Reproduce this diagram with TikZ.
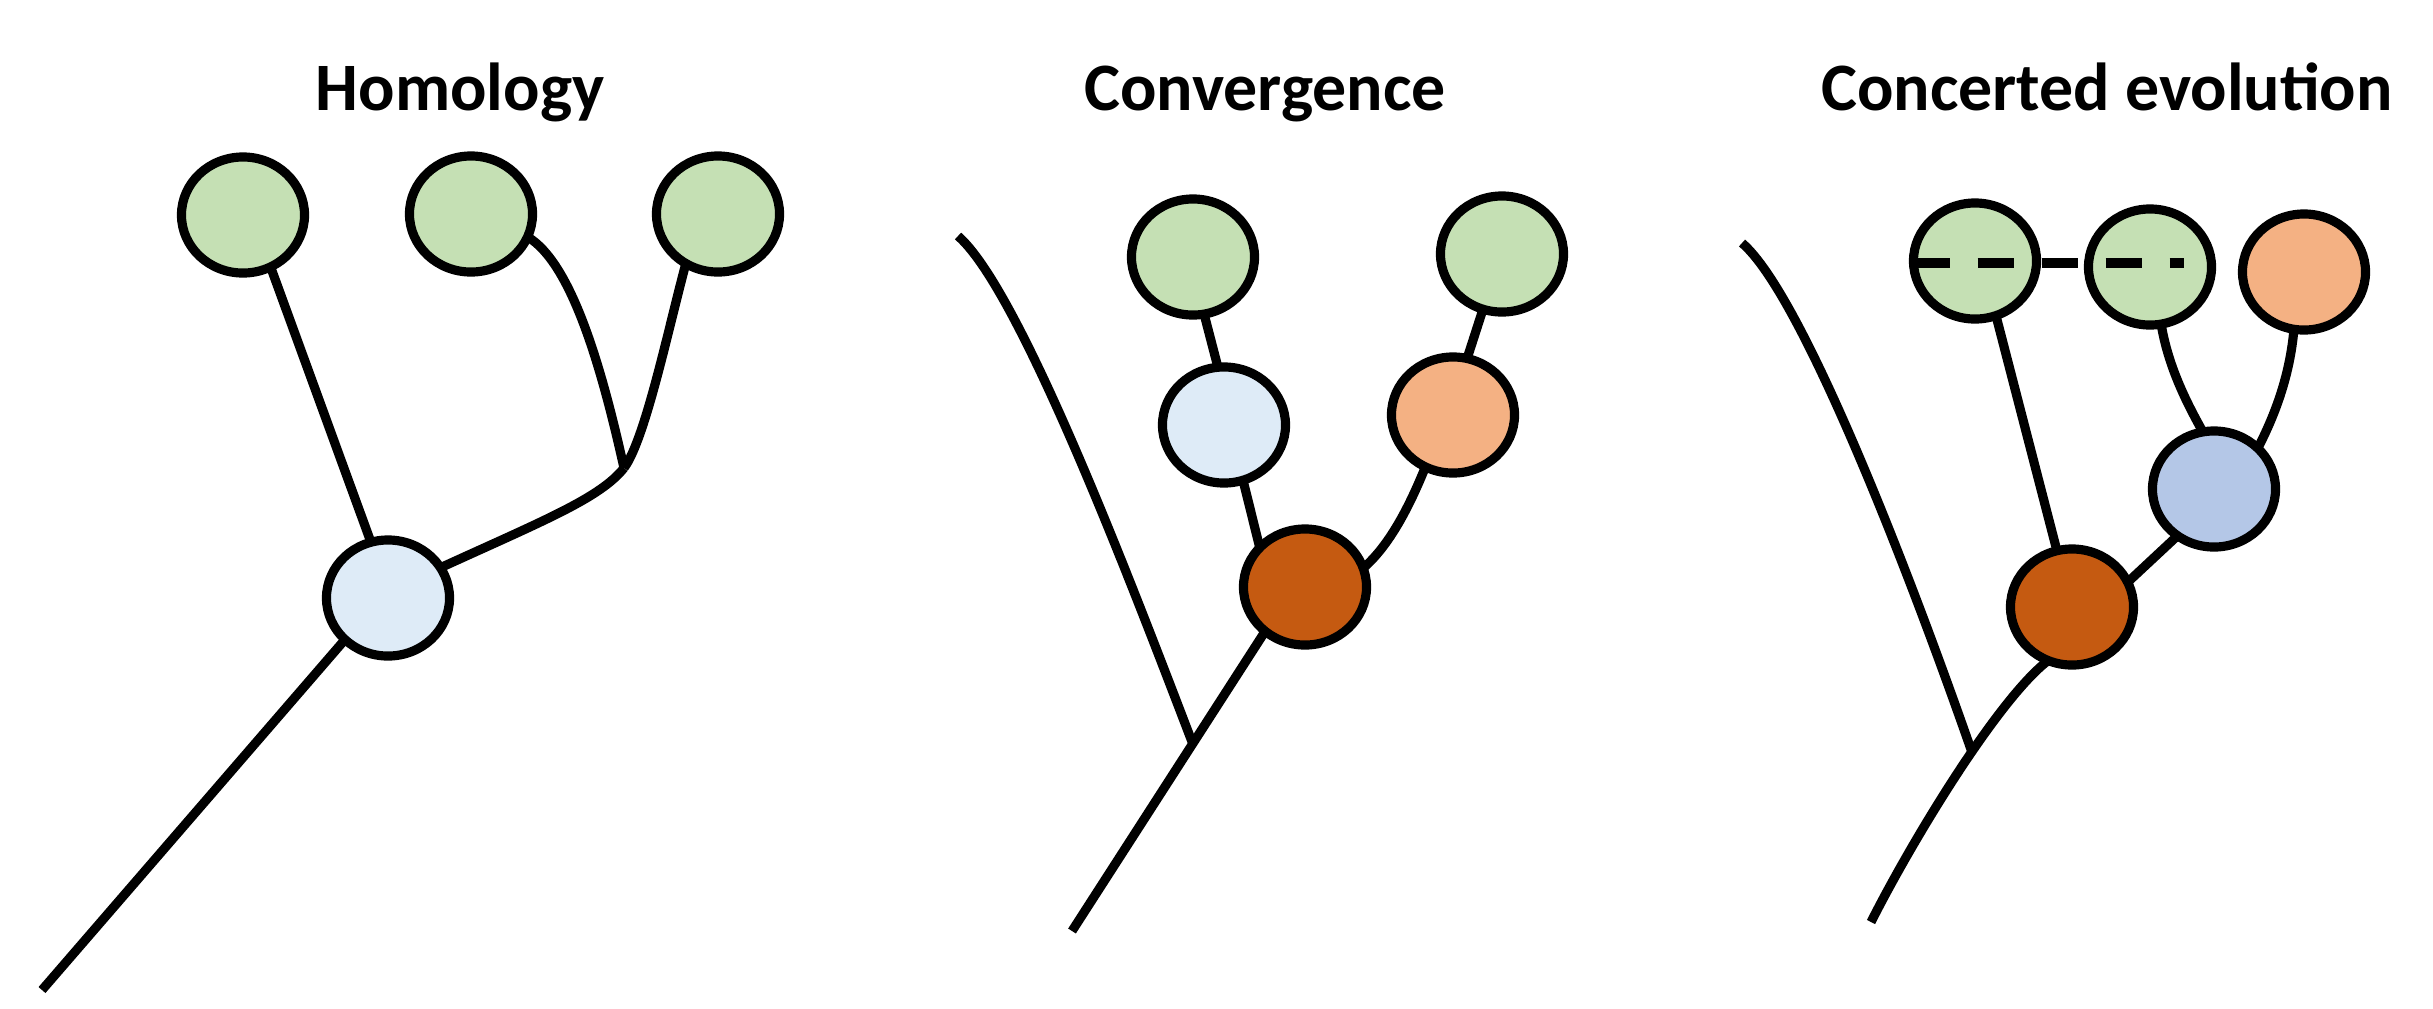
\documentclass[tikz,border=0pt]{standalone}
\usepackage{fontspec}
\setmainfont{Carlito}
\usetikzlibrary{shapes.geometric,calc}
\definecolor{cgreen}{HTML}{C5E0B4}
\definecolor{clblue}{HTML}{DEEBF7}
\definecolor{cmblue}{HTML}{B4C7E7}
\definecolor{corange}{HTML}{F4B183}
\definecolor{crust}{HTML}{C55A11}
\begin{document}
\begin{tikzpicture}[x=0.01cm,y=-0.01cm,
  blob/.style={ellipse,draw=black,line width=2.6pt,minimum width=1.23cm,minimum height=1.16cm,inner sep=0pt,outer sep=0pt},
  branch/.style={line width=2.6pt,line cap=butt},
  dashline/.style={line width=2.7pt,dash pattern=on 0.36cm off 0.28cm},
  title/.style={font=\bfseries\fontsize{19.3}{23}\selectfont,anchor=base,inner sep=0pt}]
\useasboundingbox (0,0) rectangle (2433,1008);
\fill[white] (0,0) rectangle (2433,1008);

% titles
\node[title] (t1) at (460,110) {Homology};
\node[title] (t2t) at (1265,110) {Convergence};
\node[title] (t3t) at (2107,110) {Concerted evolution};

% ---------- Panel 1: Homology ----------
\node[blob,fill=cgreen] (g1) at (243,215) {};
\node[blob,fill=cgreen] (g2) at (471,214) {};
\node[blob,fill=cgreen] (g3) at (718,214) {};
\node[blob,fill=clblue] (b1) at (388,598) {};
\coordinate (j1) at (624,468);
\coordinate (r1) at (42,990);
\draw[branch] (g1.298) -- (b1.107);
\draw[branch] (b1.224) -- (r1);
\draw[branch] (g2.-22) .. controls (570,262) and (600,360) .. (j1);
\draw[branch] (g3.237) .. controls (668,330) and (645,440) .. (j1);
\draw[branch] (j1) .. controls (600,498) and (545,520) .. (b1.30);

% ---------- Panel 2: Convergence ----------
\node[blob,fill=cgreen] (gA) at (1193,257) {};
\node[blob,fill=cgreen] (gB) at (1502,254) {};
\node[blob,fill=clblue] (lb2) at (1224,425) {};
\node[blob,fill=corange] (or2) at (1453,415) {};
\node[blob,fill=crust] (ru2) at (1305,587) {};
\coordinate (s2) at (958,236);
\coordinate (r2) at (1072,931);
\draw[branch] (gA.281) -- (lb2.96);
\draw[branch] (lb2.289) -- (ru2.139);
\draw[branch] (gB.251) -- (or2.76);
\draw[branch] (ru2.18) .. controls (1390,545) and (1410,505) .. (or2.242);
\draw[branch] (ru2.228) -- coordinate[pos=0.375] (j2) (r2);
\draw[branch] (s2) .. controls (1020,290) and (1130,580) .. (j2);

% ---------- Panel 3: Concerted evolution ----------
\node[blob,fill=cgreen] (gC) at (1975,261) {};
\node[blob,fill=cgreen] (gD) at (2150,267) {};
\node[blob,fill=corange] (or3) at (2304,272) {};
\node[blob,fill=cmblue] (mb3) at (2214,489) {};
\node[blob,fill=crust] (ru3) at (2072,607) {};
\coordinate (s3) at (1742,243);
\coordinate (r3) at (1871,922);
\coordinate (dE) at (2184,263);
\draw[branch] (gC.291) -- (ru3.105);
\draw[branch] (gD.281) .. controls (2168,365) and (2185,400) .. (mb3.101);
\draw[branch] (or3.260) .. controls (2290,375) and (2275,415) .. (mb3.43);
\draw[branch] (mb3.232) -- (ru3.24);
\draw[branch] (ru3.246) .. controls (2000,697) and (1915,835) .. coordinate[pos=0.43] (j3) (r3);
\draw[branch] (s3) .. controls (1804,296) and (1914,586) .. (j3);
\draw[dashline] (gC.west |- dE) -- (dE);
\end{tikzpicture}
\end{document}
